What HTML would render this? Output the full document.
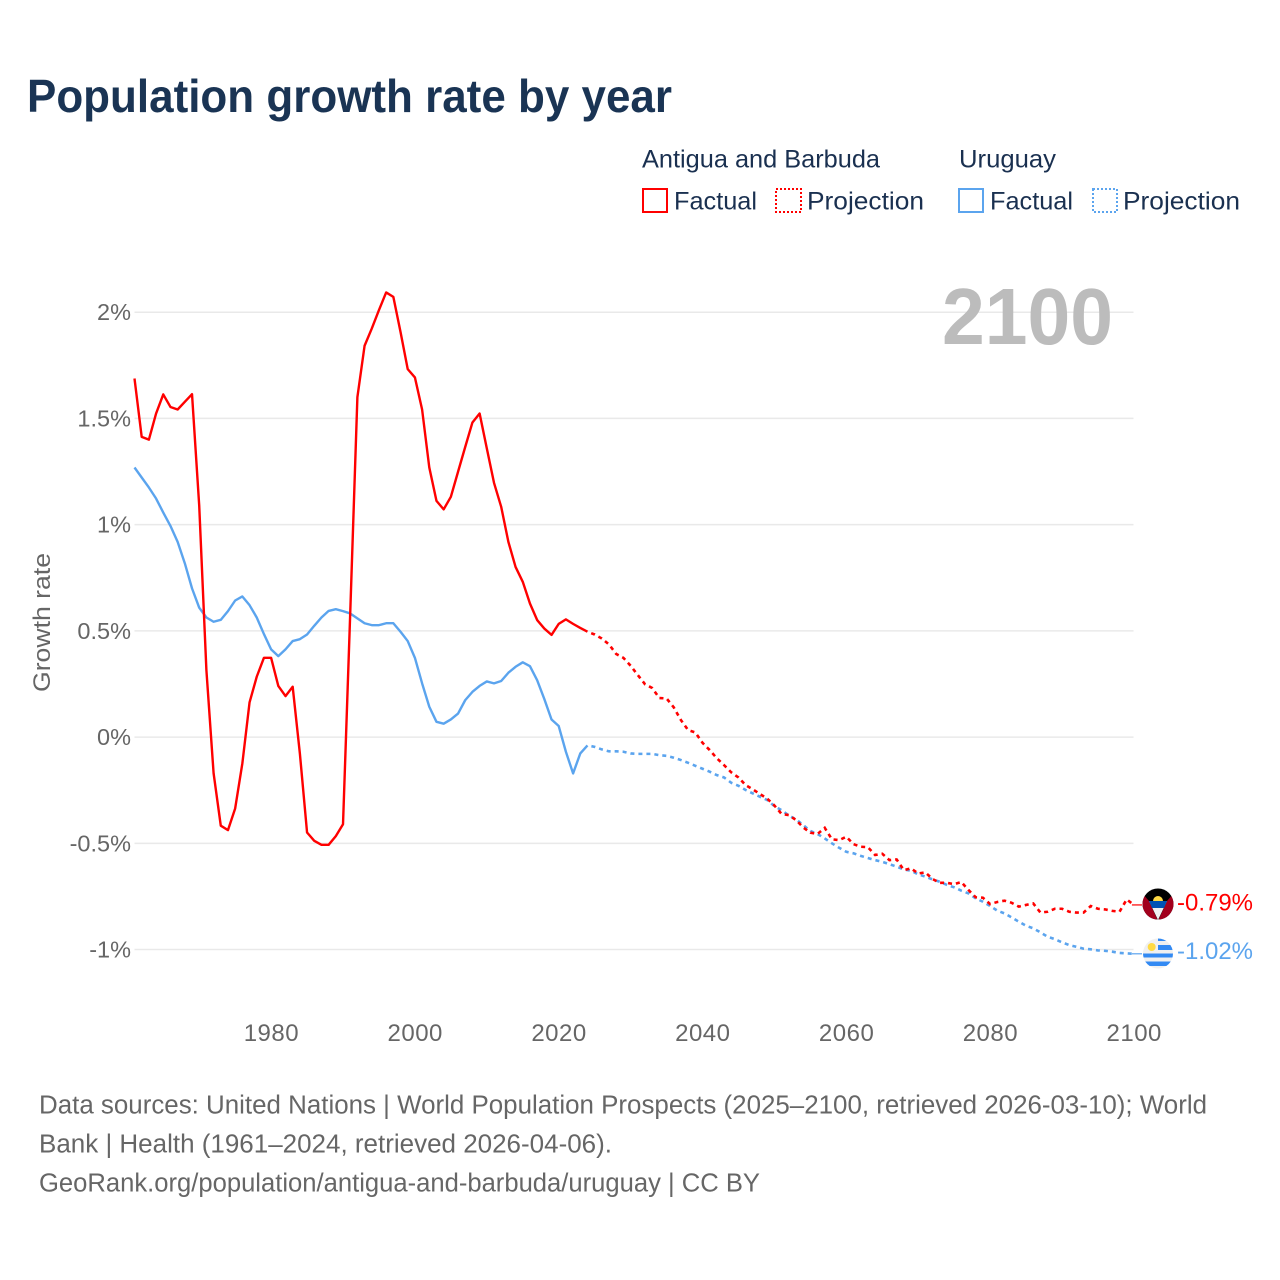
<!DOCTYPE html>
<html lang="en">
<head>
<meta charset="utf-8">
<title>Population growth rate by year</title>
<style>
html,body{margin:0;padding:0;background:#fff;}
svg{display:block;}
text{font-family:"Liberation Sans",sans-serif;}
</style>
</head>
<body>
<svg id="chart" xmlns="http://www.w3.org/2000/svg" width="1280" height="1280" viewBox="0 0 1280 1280">
  <rect width="1280" height="1280" fill="#fff"/>
  <text x="27" y="112" font-size="46" font-weight="700" fill="#1a3454" textLength="645" lengthAdjust="spacingAndGlyphs">Population growth rate by year</text>

  <g>
    <text x="642" y="167.5" font-size="25" fill="#1a3050" textLength="238" lengthAdjust="spacingAndGlyphs">Antigua and Barbuda</text>
    <text x="959" y="167.5" font-size="25" fill="#1a3050" textLength="97" lengthAdjust="spacingAndGlyphs">Uruguay</text>
    <rect x="643" y="189" width="24" height="23" fill="none" stroke="#ff0000" stroke-width="2"/>
    <text x="674" y="209.5" font-size="25" fill="#1a3050" textLength="83" lengthAdjust="spacingAndGlyphs">Factual</text>
    <rect x="776" y="189" width="25" height="23" fill="none" stroke="#ff0000" stroke-width="2" stroke-dasharray="2 2"/>
    <text x="807" y="209.5" font-size="25" fill="#1a3050" textLength="117" lengthAdjust="spacingAndGlyphs">Projection</text>
    <rect x="959" y="189" width="24" height="23" fill="none" stroke="#5ba4ee" stroke-width="2"/>
    <text x="990" y="209.5" font-size="25" fill="#1a3050" textLength="83" lengthAdjust="spacingAndGlyphs">Factual</text>
    <rect x="1093" y="189" width="24" height="23" fill="none" stroke="#5ba4ee" stroke-width="2" stroke-dasharray="2 2"/>
    <text x="1123" y="209.5" font-size="25" fill="#1a3050" textLength="117" lengthAdjust="spacingAndGlyphs">Projection</text>
  </g>

  <text transform="translate(50,622.5) rotate(-90)" text-anchor="middle" font-size="24" fill="#666" textLength="139" lengthAdjust="spacingAndGlyphs">Growth rate</text>

  <g id="grid"></g>
  <g id="yTicks"></g>
  <g id="xTicks"></g>

  <text x="1113" y="344" text-anchor="end" font-size="80" font-weight="700" fill="#bcbcbc" textLength="171" lengthAdjust="spacingAndGlyphs">2100</text>

  <g id="series"></g>

  <g>
    <clipPath id="clipA"><circle cx="1158" cy="904" r="15.5"/></clipPath>
    <g clip-path="url(#clipA)">
      <rect x="1142" y="888" width="32" height="33" fill="#000"/>
      <polygon points="1142,893 1149,901 1158,921 1142,921" fill="#a2001d"/>
      <polygon points="1174,893 1167,901 1158,921 1174,921" fill="#a2001d"/>
      <polygon points="1149,901 1167,901 1158,920" fill="#f0f0f0"/>
      <polygon points="1149,901 1167,901 1164,908 1152,908" fill="#0052b4"/>
      <path d="M1153 901a5 5 0 0 1 10 0z" fill="#ffda44"/>
    </g>
  </g>
  <g>
    <clipPath id="clipU"><circle cx="1158" cy="953.5" r="15"/></clipPath>
    <g clip-path="url(#clipU)">
      <rect x="1142" y="938" width="32" height="32" fill="#f0f0f0"/>
      <rect x="1158" y="938" width="16" height="3" fill="#338af3"/>
      <rect x="1158" y="945" width="16" height="5" fill="#338af3"/>
      <rect x="1142" y="953.5" width="32" height="4" fill="#338af3"/>
      <rect x="1142" y="961.5" width="32" height="4.5" fill="#338af3"/>
      <circle cx="1151.7" cy="947" r="4" fill="#ffda44"/>
    </g>
  </g>

  <text x="1177" y="910.5" font-size="24.5" fill="#ff0000" textLength="76" lengthAdjust="spacingAndGlyphs">-0.79%</text>
  <text x="1177" y="959" font-size="24.5" fill="#5ba4ee" textLength="76" lengthAdjust="spacingAndGlyphs">-1.02%</text>

  <g fill="#666" font-size="25.5">
    <text x="39" y="1113.5" textLength="1168" lengthAdjust="spacingAndGlyphs">Data sources: United Nations | World Population Prospects (2025–2100, retrieved 2026-03-10); World</text>
    <text x="39" y="1152.5" textLength="573" lengthAdjust="spacingAndGlyphs">Bank | Health (1961–2024, retrieved 2026-04-06).</text>
    <text x="39" y="1191.5" textLength="721" lengthAdjust="spacingAndGlyphs">GeoRank.org/population/antigua-and-barbuda/uruguay | CC BY</text>
  </g>
</svg>
<script>
const factualYears = [1961,1962,1963,1964,1965,1966,1967,1968,1969,1970,1971,1972,1973,1974,1975,1976,1977,1978,1979,1980,1981,1982,1983,1984,1985,1986,1987,1988,1989,1990,1991,1992,1993,1994,1995,1996,1997,1998,1999,2000,2001,2002,2003,2004,2005,2006,2007,2008,2009,2010,2011,2012,2013,2014,2015,2016,2017,2018,2019,2020,2021,2022,2023,2024];
const projectionYears = [2025,2026,2027,2028,2029,2030,2031,2032,2033,2034,2035,2036,2037,2038,2039,2040,2041,2042,2043,2044,2045,2046,2047,2048,2049,2050,2051,2052,2053,2054,2055,2056,2057,2058,2059,2060,2061,2062,2063,2064,2065,2066,2067,2068,2069,2070,2071,2072,2073,2074,2075,2076,2077,2078,2079,2080,2081,2082,2083,2084,2085,2086,2087,2088,2089,2090,2091,2092,2093,2094,2095,2096,2097,2098,2099,2100];
const antiguaFactual = [1.688,1.413,1.40,1.523,1.613,1.554,1.542,1.578,1.614,1.09,0.315,-0.17,-0.417,-0.438,-0.336,-0.124,0.163,0.284,0.373,0.373,0.241,0.193,0.237,-0.077,-0.449,-0.488,-0.507,-0.507,-0.466,-0.41,0.58,1.60,1.842,1.923,2.01,2.093,2.072,1.907,1.732,1.693,1.542,1.269,1.112,1.072,1.131,1.249,1.366,1.481,1.523,1.359,1.197,1.084,0.919,0.801,0.731,0.629,0.551,0.511,0.481,0.533,0.554,0.533,0.514,0.496];
const antiguaProjection = [0.483,0.464,0.436,0.391,0.373,0.336,0.292,0.249,0.231,0.184,0.182,0.14,0.08,0.033,0.022,-0.027,-0.061,-0.10,-0.132,-0.166,-0.19,-0.226,-0.246,-0.268,-0.29,-0.322,-0.362,-0.367,-0.39,-0.425,-0.45,-0.456,-0.427,-0.481,-0.485,-0.469,-0.504,-0.516,-0.518,-0.555,-0.549,-0.579,-0.576,-0.626,-0.618,-0.642,-0.637,-0.668,-0.686,-0.686,-0.692,-0.682,-0.72,-0.754,-0.756,-0.786,-0.776,-0.77,-0.78,-0.798,-0.79,-0.783,-0.826,-0.822,-0.808,-0.808,-0.822,-0.826,-0.826,-0.795,-0.808,-0.811,-0.818,-0.822,-0.764,-0.79];
const uruguayFactual = [1.269,1.222,1.175,1.123,1.057,0.994,0.919,0.818,0.70,0.609,0.563,0.543,0.552,0.593,0.643,0.662,0.621,0.563,0.485,0.413,0.381,0.413,0.452,0.461,0.483,0.524,0.563,0.594,0.602,0.593,0.582,0.559,0.536,0.527,0.527,0.536,0.536,0.496,0.452,0.373,0.253,0.143,0.072,0.063,0.083,0.111,0.174,0.213,0.241,0.262,0.253,0.264,0.303,0.331,0.352,0.334,0.268,0.179,0.083,0.052,-0.069,-0.171,-0.077,-0.039];
const uruguayProjection = [-0.046,-0.058,-0.067,-0.067,-0.069,-0.077,-0.079,-0.079,-0.079,-0.085,-0.088,-0.097,-0.108,-0.121,-0.135,-0.149,-0.163,-0.179,-0.19,-0.215,-0.229,-0.249,-0.265,-0.281,-0.296,-0.325,-0.344,-0.369,-0.387,-0.414,-0.442,-0.456,-0.477,-0.50,-0.521,-0.54,-0.547,-0.559,-0.569,-0.579,-0.587,-0.598,-0.61,-0.623,-0.629,-0.646,-0.657,-0.67,-0.681,-0.696,-0.707,-0.723,-0.736,-0.759,-0.775,-0.795,-0.817,-0.83,-0.849,-0.869,-0.888,-0.90,-0.919,-0.94,-0.951,-0.966,-0.979,-0.987,-0.996,-0.999,-1.004,-1.006,-1.01,-1.016,-1.018,-1.02];
const xTickYears = [1980,2000,2020,2040,2060,2080,2100];
const yTickValues = [2,1.5,1,0.5,0,-0.5,-1];
const yTickLabels = ["2%","1.5%","1%","0.5%","0%","-0.5%","-1%"];

const SVG_NS = 'http://www.w3.org/2000/svg';
function xScale(year){ return 134.5 + (year - 1961) * 7.19; }
function yScale(value){ return 737.1 - value * 212.45; }
function make(tag, parent, attrs){
  const el = document.createElementNS(SVG_NS, tag);
  Object.keys(attrs).forEach(function(k){ el.setAttribute(k, attrs[k]); });
  parent.appendChild(el);
  return el;
}
function pointsFor(years, values){
  return years.map(function(yr, i){ return xScale(yr).toFixed(2) + ',' + yScale(values[i]).toFixed(2); });
}

const gridGroup = document.getElementById('grid');
const yTickGroup = document.getElementById('yTicks');
yTickValues.forEach(function(v, i){
  const line = make('line', gridGroup, {x1:134.5, x2:1133.5, y1:yScale(v), y2:yScale(v), stroke:'#e9e9e9', 'stroke-width':1.5});
  
  
  const label = make('text', yTickGroup, {x:131, y:yScale(v) + 8, 'text-anchor':'end', 'font-size':23.5, fill:'#666'});
  label.textContent = yTickLabels[i];
  
  
});

const xTickGroup = document.getElementById('xTicks');
xTickYears.forEach(function(yr){
  const label = make('text', xTickGroup, {x:xScale(yr) + 0.3, y:1041, 'text-anchor':'middle', 'font-size':24, 'letter-spacing':0.5, fill:'#666'});
  label.textContent = String(yr);
  
  
});

const seriesGroup = document.getElementById('series');
function drawSeries(name, color, factual, projection){
  const factualPts = pointsFor(factualYears, factual);
  const projectionPts = pointsFor(projectionYears, projection);
  const lastFactual = factualPts[factualPts.length - 1];
  const dashed = make('polyline', seriesGroup, {points:[lastFactual].concat(projectionPts).join(' '), fill:'none', stroke:color, 'stroke-width':2.6, 'stroke-dasharray':'4 4', 'stroke-dashoffset':-4});
  
  
  const solid = make('polyline', seriesGroup, {points:factualPts.join(' '), fill:'none', stroke:color, 'stroke-width':2.4, 'stroke-linejoin':'round'});
  
  
  const endValue = projection[projection.length - 1];
  const connector = make('line', seriesGroup, {x1:xScale(2100) - 2, x2:1142, y1:yScale(endValue), y2:yScale(endValue), stroke:color, 'stroke-width':1.2});
  
  
}
drawSeries('uruguay', '#5ba4ee', uruguayFactual, uruguayProjection);
drawSeries('antigua', '#ff0000', antiguaFactual, antiguaProjection);
</script>
</body>
</html>
